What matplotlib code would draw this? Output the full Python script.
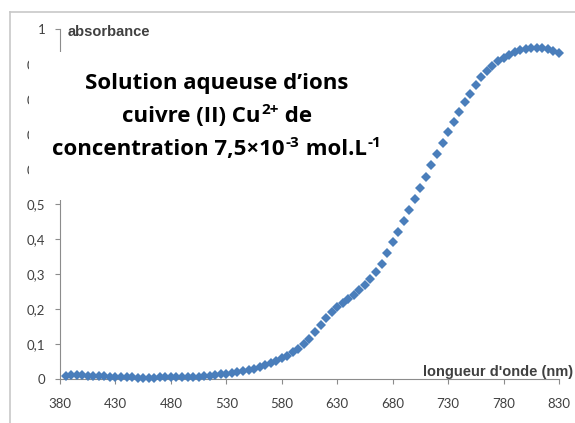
import matplotlib
matplotlib.use("Agg")
import matplotlib.pyplot as plt
from matplotlib.patches import Rectangle
from matplotlib.lines import Line2D

# ---- data ----
wavelength = list(range(385, 835, 5))
absorbance = [
    0.010, 0.011, 0.011, 0.011, 0.010, 0.010, 0.009, 0.008, 0.007, 0.006,   # 385-430
    0.006, 0.005, 0.005, 0.004, 0.004, 0.004, 0.004, 0.005, 0.005, 0.005,   # 435-480
    0.005, 0.006, 0.006, 0.006, 0.007, 0.008, 0.009, 0.011, 0.013, 0.015,   # 485-530
    0.017, 0.020, 0.023, 0.026, 0.030, 0.034, 0.039, 0.045, 0.051, 0.059,   # 535-580
    0.067, 0.076, 0.087, 0.099, 0.115, 0.135, 0.155, 0.175, 0.192, 0.207,   # 585-630
    0.218, 0.229, 0.241, 0.254, 0.269, 0.286, 0.305, 0.330, 0.360, 0.390,   # 635-680
    0.420, 0.452, 0.484, 0.515, 0.545, 0.577, 0.610, 0.643, 0.674, 0.705,   # 685-730
    0.735, 0.762, 0.790, 0.815, 0.840, 0.862, 0.880, 0.895, 0.908, 0.918,   # 735-780
    0.927, 0.934, 0.940, 0.944, 0.946, 0.947, 0.946, 0.943, 0.938, 0.932,   # 785-830
]

xticks = [380, 430, 480, 530, 580, 630, 680, 730, 780, 830]
yticks = [0, 0.1, 0.2, 0.3, 0.4, 0.5, 0.6, 0.7, 0.8, 0.9, 1.0]
ytick_labels = ["0", "0,1", "0,2", "0,3", "0,4", "0,5", "0,6", "0,7", "0,8", "0,9", "1"]

title_lines = [
    [("Solution aqueuse d’ions", False)],
    [("cuivre (II) Cu", False), ("2+", True), (" de", False)],
    [("concentration 7,5×10", False), ("-3", True), (" mol.L", False), ("-1", True)],
]

W, H = 575, 423
fig = plt.figure(figsize=(W / 100, H / 100), dpi=100)
fig.patch.set_facecolor("white")

ax = fig.add_axes([60 / W, (H - 379) / H, (559 - 60) / W, (379 - 29) / H])
ax.set_xlim(380, 830)
ax.set_ylim(0, 1)
ax.plot(wavelength, absorbance, linestyle="none", marker="D", markersize=5.2,
        color="#4A7EBB", markeredgewidth=0, clip_on=False, zorder=3)

for s in ["top", "right"]:
    ax.spines[s].set_visible(False)
for s in ["left", "bottom"]:
    ax.spines[s].set_color("#8c8c8c")
    ax.spines[s].set_linewidth(0.8)

ax.set_xticks(xticks)
ax.set_xticklabels([str(v) for v in xticks], fontfamily="Lato", fontsize=9.5, color="#404040")
ax.set_yticks(yticks)
ax.set_yticklabels(ytick_labels, fontfamily="Lato", fontsize=9.5, color="#404040")
ax.tick_params(axis="x", direction="out", length=3.6, width=0.8, color="#8c8c8c", pad=10)
ax.tick_params(axis="y", direction="out", length=3.6, width=0.8, color="#8c8c8c", pad=7)

# axis titles
fig.text(68 / W, (H - 32) / H, "absorbance", fontfamily="Liberation Sans", fontweight="bold",
         fontsize=10.5, color="#404040", ha="left", va="center")
fig.text(573 / W, (H - 376) / H, "longueur d'onde (nm)", fontfamily="Liberation Sans",
         fontweight="bold", fontsize=10.5, color="#404040", ha="right", va="baseline", zorder=5)

# white text box covering the upper part of the y axis
fig.add_artist(Rectangle((29 / W, (H - 200) / H), (405 - 29) / W, (200 - 52) / H,
                         transform=fig.transFigure, facecolor="white", edgecolor="none", zorder=2))

# outer frame lines
fig.add_artist(Line2D([10 / W, 10 / W], [0, (H - 12) / H], transform=fig.transFigure,
                      color="#c8c8c8", linewidth=1.2, zorder=1))
fig.add_artist(Line2D([10 / W, 1], [(H - 12) / H, (H - 12) / H], transform=fig.transFigure,
                      color="#c8c8c8", linewidth=1.2, zorder=1))

# title block, laid out piece by piece (superscripts as smaller raised text)
renderer = fig.canvas.get_renderer()
main_size, sup_size = 16, 11
center_x = 217
baselines = [89, 122, 155]
sup_raise = 8
font = "Open Sans"
for pieces, base in zip(title_lines, baselines):
    arts = []
    for txt, sup in pieces:
        t = fig.text(0, 0, txt, fontfamily=font, fontweight="bold",
                     fontsize=sup_size if sup else main_size, color="black",
                     ha="left", va="baseline", zorder=4)
        arts.append((t, sup))
    widths = [t.get_window_extent(renderer).width for t, _ in arts]
    gaps = [1 if sup else 0 for _, sup in arts]
    total = sum(widths) + sum(gaps)
    x = center_x - total / 2
    for (t, sup), w, g in zip(arts, widths, gaps):
        x += g
        y = base - (sup_raise if sup else 0)
        t.set_position((x / W, (H - y) / H))
        x += w

fig.savefig("out.png", dpi=100, facecolor="white")
